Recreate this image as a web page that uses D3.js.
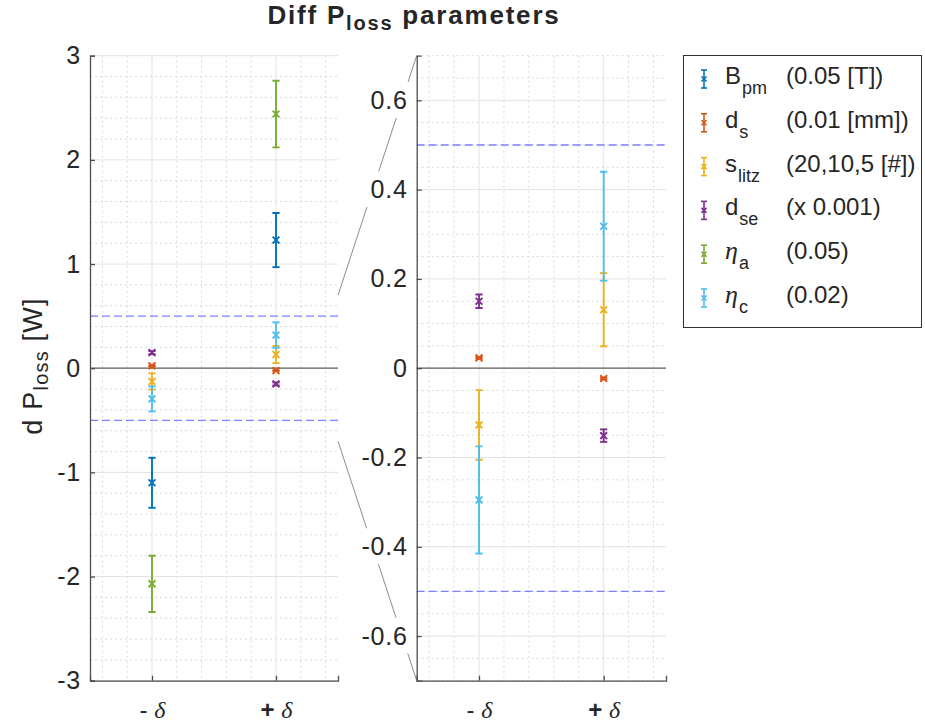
<!DOCTYPE html>
<html>
<head>
<meta charset="utf-8">
<script src="https://cdn.jsdelivr.net/npm/d3@7/dist/d3.min.js"></script>
<style>
  body { margin: 0; background: #fff; }
  text { font-family: "Liberation Sans", Arial, sans-serif; fill: #262626; }
</style>
</head>
<body>
<script>
var w = 925;
var h = 726;

// x categories (placed at x = 1, 2)
var categories = ["-", "+"];
var catPos = [1, 2];

// series
var seriesMain = ["B", "d", "s", "d", "η", "η"];
var seriesSub = ["pm", "s", "litz", "se", "a", "c"];
var seriesNote = ["(0.05 [T])", "(0.01 [mm])", "(20,10,5 [#])", "(x 0.001)", "(0.05)", "(0.02)"];
var seriesColors = ["#0072BD", "#D95319", "#EDB120", "#7E2F8E", "#77AC30", "#4DBEEE"];

// values at - delta and + delta, with error half-widths
var valMinus = [-1.10, 0.023, -0.127, 0.150, -2.07, -0.295];
var valPlus = [1.23, -0.023, 0.131, -0.151, 2.44, 0.318];
var errMinus = [0.24, 0.002, 0.078, 0.015, 0.27, 0.12];
var errPlus = [0.26, 0.002, 0.082, 0.014, 0.32, 0.122];

// axes ticks
var leftTicks = [-3, -2, -1, 0, 1, 2, 3];
var rightTicks = [-0.6, -0.4, -0.2, 0, 0.2, 0.4, 0.6];
var limitLines = [-0.5, 0.5];
var zoomRange = [-0.7, 0.7];

var svg = d3.select("body").append("svg").attr("width", w).attr("height", h);

var yTop = 55.7, yBot = 680.7;

//build data rows: one per series and category
var points = [];
seriesMain.forEach(function (s, i) {
  points.push({ s: i, x: catPos[0], y: valMinus[i], e: errMinus[i] });
  points.push({ s: i, x: catPos[1], y: valPlus[i], e: errPlus[i] });
});

function range(a, b, step) {
  var out = [];
  var n = Math.round((b - a) / step);
  for (var k = 0; k <= n; k++) out.push(+(a + k * step).toFixed(4));
  return out;
}

// matlab style labels use a plain hyphen
function hyphen(f) {
  return function (d) { return f(d).replace("\u2212", "-"); };
}

function drawPanel(id, x0, x1, yDomain, ticks, minorStep, fmt) {
  var x = d3.scaleLinear().domain([0.5, 2.5]).range([x0, x1]);
  var y = d3.scaleLinear().domain(yDomain).range([yBot, yTop]);
  var g = svg.append("g");

  // minor grid
  var xMinor = range(0.6, 2.4, 0.2).filter(function (v) { return catPos.indexOf(v) === -1; });
  var yMinor = range(yDomain[0], yDomain[1], minorStep).filter(function (v) {
    return !ticks.some(function (t) { return Math.abs(t - v) < 1e-6; });
  });
  g.selectAll(".mx").data(xMinor).enter().append("line")
    .attr("x1", x).attr("x2", x).attr("y1", yTop).attr("y2", yBot)
    .attr("stroke", "#d9d9d9").attr("stroke-dasharray", "2,3").attr("stroke-width", 1);
  g.selectAll(".my").data(yMinor).enter().append("line")
    .attr("x1", x0).attr("x2", x1).attr("y1", y).attr("y2", y)
    .attr("stroke", "#d9d9d9").attr("stroke-dasharray", "2,3").attr("stroke-width", 1);

  // major grid
  g.selectAll(".gx").data(catPos).enter().append("line")
    .attr("x1", x).attr("x2", x).attr("y1", yTop).attr("y2", yBot)
    .attr("stroke", "#e3e3e3").attr("stroke-width", 1);
  g.selectAll(".gy").data(ticks.filter(function (t) { return t !== 0; })).enter().append("line")
    .attr("x1", x0).attr("x2", x1).attr("y1", y).attr("y2", y)
    .attr("stroke", "#e3e3e3").attr("stroke-width", 1);

  // zero line
  g.append("line").attr("x1", x0).attr("x2", x1).attr("y1", y(0)).attr("y2", y(0))
    .attr("stroke", "#5a5a5a").attr("stroke-width", 1.3);

  // +- 0.5 limits
  g.selectAll(".lim").data(limitLines).enter().append("line")
    .attr("x1", x0).attr("x2", x1).attr("y1", y).attr("y2", y)
    .attr("stroke", "#7f7fff").attr("stroke-width", 1.3).attr("stroke-dasharray", "8,4");

  // clip for the error bars
  svg.append("clipPath").attr("id", "clip" + id).append("rect")
    .attr("x", x0).attr("y", yTop).attr("width", x1 - x0).attr("height", yBot - yTop);
  var marks = g.append("g").attr("clip-path", "url(#clip" + id + ")");

  var pt = marks.selectAll(".pt").data(points).enter().append("g")
    .attr("stroke", function (d) { return seriesColors[d.s]; })
    .attr("stroke-width", 1.9).attr("fill", "none");
  pt.append("line")
    .attr("x1", function (d) { return x(d.x); }).attr("x2", function (d) { return x(d.x); })
    .attr("y1", function (d) { return y(d.y + d.e); }).attr("y2", function (d) { return y(d.y - d.e); });
  pt.append("line")
    .attr("x1", function (d) { return x(d.x) - 3.6; }).attr("x2", function (d) { return x(d.x) + 3.6; })
    .attr("y1", function (d) { return y(d.y + d.e); }).attr("y2", function (d) { return y(d.y + d.e); });
  pt.append("line")
    .attr("x1", function (d) { return x(d.x) - 3.6; }).attr("x2", function (d) { return x(d.x) + 3.6; })
    .attr("y1", function (d) { return y(d.y - d.e); }).attr("y2", function (d) { return y(d.y - d.e); });
  pt.append("path")
    .attr("d", function (d) {
      var cx = x(d.x), cy = y(d.y), r = 3.4;
      return "M" + (cx - r) + "," + (cy - r) + "L" + (cx + r) + "," + (cy + r) +
        "M" + (cx - r) + "," + (cy + r) + "L" + (cx + r) + "," + (cy - r);
    });

  // axes
  var yAxis = g.append("g").attr("transform", "translate(" + x0 + ",0)")
    .call(d3.axisLeft(y).tickValues(ticks).tickSize(-5).tickPadding(9).tickFormat(fmt));
  var xAxis = g.append("g").attr("transform", "translate(0," + yBot + ")")
    .call(d3.axisBottom(x).tickValues(catPos).tickSize(-5).tickPadding(12).tickFormat(""));
  [yAxis, xAxis].forEach(function (a) {
    a.select(".domain").attr("stroke", "#4d4d4d").attr("stroke-width", 1.3);
    a.selectAll(".tick line").attr("stroke", "#4d4d4d").attr("stroke-width", 1.3);
  });
  yAxis.selectAll("text").attr("font-size", 25).attr("fill", "#262626")
    .style("letter-spacing", "0.8px")
    .style("font-family", "'Liberation Sans', Arial, sans-serif");

  // x labels "- δ", "+ δ"
  xAxis.selectAll(".tick").each(function (d, i) {
    var t = d3.select(this).append("text").attr("y", 37).attr("text-anchor", "middle")
      .attr("fill", "#262626").attr("font-size", 24);
    t.append("tspan").text(categories[i] + " ").style("font-family", "'Liberation Sans', Arial, sans-serif")
      .attr("font-weight", i === 1 ? "bold" : "normal");
    t.append("tspan").text("δ").style("font-family", "'Liberation Serif', serif").style("font-style", "italic");
  });

  return { x: x, y: y, g: g, yAxis: yAxis };
}

var left = drawPanel("L", 90, 338, [-3, 3], leftTicks, 0.2, hyphen(d3.format("d")));

// connector lines from zoom window to the inset axes
var yl = left.y;
svg.append("line").attr("x1", 338).attr("y1", yl(zoomRange[1])).attr("x2", 416.7).attr("y2", yTop)
  .attr("stroke", "#8c8c8c").attr("stroke-width", 1);
svg.append("line").attr("x1", 338).attr("y1", yl(zoomRange[0])).attr("x2", 416.7).attr("y2", yBot)
  .attr("stroke", "#8c8c8c").attr("stroke-width", 1);

var right = drawPanel("R", 416.7, 666, zoomRange, rightTicks, 0.05, hyphen(function (d) {
  return d === 0 ? "0" : d3.format(".1f")(d);
}));
// white box behind inset tick labels (hides the connector)
right.yAxis.selectAll(".tick").each(function () {
  var t = d3.select(this).select("text");
  var b = t.node().getBBox();
  d3.select(this).insert("rect", "text").attr("x", b.x - 4).attr("y", b.y - 4)
    .attr("width", b.width + 8).attr("height", b.height + 8).attr("fill", "#fff");
});

// title
var title = svg.append("text").attr("x", 414).attr("y", 24).attr("text-anchor", "middle")
  .attr("font-size", 26).attr("font-weight", "bold").attr("fill", "#000")
  .style("letter-spacing", "1.8px");
title.append("tspan").text("Diff P");
title.append("tspan").text("loss").attr("font-size", 20).attr("dy", 6);
title.append("tspan").text(" parameters").attr("dy", -6);

// y label
var yl2 = svg.append("text").attr("transform", "translate(42,366) rotate(-90)")
  .attr("text-anchor", "middle").attr("font-size", 27).attr("fill", "#262626")
  .style("letter-spacing", "1.2px");
yl2.append("tspan").text("d P");
yl2.append("tspan").text("loss").attr("font-size", 20).attr("dy", 6);
yl2.append("tspan").text(" [W]").attr("dy", -6);

// legend
var lg = svg.append("g");
lg.append("rect").attr("x", 683.5).attr("y", 55.5).attr("width", 238).attr("height", 272)
  .attr("fill", "#fff").attr("stroke", "#333").attr("stroke-width", 1);
var rows = lg.selectAll(".row").data(seriesMain).enter().append("g")
  .attr("transform", function (d, i) { return "translate(0," + (84 + i * 43.8) + ")"; });
rows.each(function (d, i) {
  var r = d3.select(this);
  var c = seriesColors[i];
  var ic = r.append("g").attr("stroke", c).attr("stroke-width", 1.6);
  ic.append("line").attr("x1", 704).attr("x2", 704).attr("y1", -14).attr("y2", 4);
  ic.append("line").attr("x1", 701).attr("x2", 707).attr("y1", -14).attr("y2", -14);
  ic.append("line").attr("x1", 701).attr("x2", 707).attr("y1", 4).attr("y2", 4);
  ic.append("path").attr("d", "M701.5,-7.5L706.5,-2.5M701.5,-2.5L706.5,-7.5");
  var t = r.append("text").attr("x", 725).attr("font-size", 24).attr("fill", "#000");
  var m = t.append("tspan").text(d);
  if (d === "η") m.style("font-family", "'Liberation Serif', serif").style("font-style", "italic").attr("font-size", 26);
  t.append("tspan").text(seriesSub[i]).attr("font-size", 18).attr("dy", 10).attr("dx", 1);
  r.append("text").attr("x", 786).attr("font-size", 24).attr("fill", "#000").text(seriesNote[i]);
});
</script>
</body>
</html>
